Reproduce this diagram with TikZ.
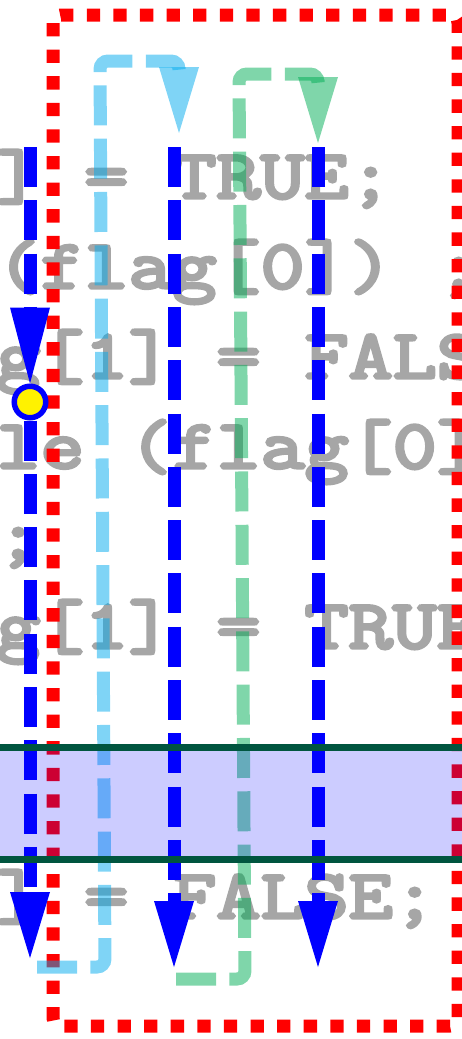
\documentclass[tikz,border=0pt]{standalone}
\usepackage{fontspec}
\usepackage{tikz}
\usetikzlibrary{arrows.meta}
\newfontfamily\codefont[FakeStretch=1.24,FakeBold=5]{Latin Modern Mono}
\definecolor{codegray}{HTML}{A6A6A6}
\definecolor{sky}{HTML}{00AAEE}
\definecolor{mint}{HTML}{00AD55}
\definecolor{pine}{HTML}{00553F}
\tikzset{
  >={Triangle[length=66pt, width=40pt, line width=0pt]},
  codeline/.style={anchor=base west, inner sep=0pt, text=codegray,
    font=\codefont\fontsize{69}{90}\selectfont},
  region/.style={draw=red, line width=13pt, dash pattern=on 13.3pt off 13.3pt,
    rounded corners=8pt},
  blueflow/.style={draw=blue, line width=13pt, dash pattern=on 40pt off 13.3pt, ->},
  loopflow/.style={draw=#1, opacity=0.5, line width=13pt,
    dash pattern=on 40pt off 13.3pt, rounded corners=8pt, ->},
  probe/.style={circle, fill=yellow, draw=blue, line width=5.5pt,
    minimum size=31.5pt, inner sep=0pt},
  critband/.style={fill=blue, opacity=0.2},
  bandedge/.style={draw=pine, line width=7pt},
}

\begin{document}
\begin{tikzpicture}[x=1pt, y=-1pt]
  \useasboundingbox (0,0) rectangle (462,1039);
  \clip (0,0) rectangle (462,1039);

  % code lines
  \node[codeline] (c1) at (-4,198) {] = TRUE;};
  \node[codeline] (c2) at (-4,288) {(flag[0]) ;};
  \node[codeline] (c3) at (-4,378) {g[1] = FALSE;};
  \node[codeline] (c4) at (-4,468) {le (flag[0]) ;};
  \node[codeline] (c5) at (-4,558) {;};
  \node[codeline] (c6) at (-4,648) {g[1] = TRUE;};
  \node[codeline] (c7) at (-4,918) {] = FALSE;};

  % red region
  \draw[region] (53,15) rectangle (458,1026);

  % loops back to the top
  \coordinate (skyin) at (37,967);
  \coordinate (skyout) at (179,133);
  \draw[loopflow=sky] (skyin) -- (105,967) -- (100,61) -- (179,61) -- (skyout);
  \coordinate (mintin) at (176,979);
  \coordinate (mintout) at (318,143);
  \draw[loopflow=mint] (mintin) -- (245,979) -- (239,74) -- (318,74) -- (mintout);

  % blue runs
  \node[probe] (hit) at (30,402) {};
  \coordinate (top1) at (30,147);
  \coordinate (end1) at (30,958);
  \draw[blueflow, -{Triangle[length=76pt, width=40pt, line width=0pt]}] (top1) -- (hit);
  \draw[blueflow] (hit) -- (end1);
  \foreach \n/\x in {2/174, 3/318} {
    \coordinate (top\n) at (\x,147);
    \coordinate (end\n) at (\x,967);
    \draw[blueflow] (top\n) -- (end\n);
  }

  % band
  \fill[critband] (0,747) rectangle (462,859);
  \draw[bandedge] (0,747) -- (462,747);
  \draw[bandedge] (0,859) -- (462,859);
\end{tikzpicture}
\end{document}
